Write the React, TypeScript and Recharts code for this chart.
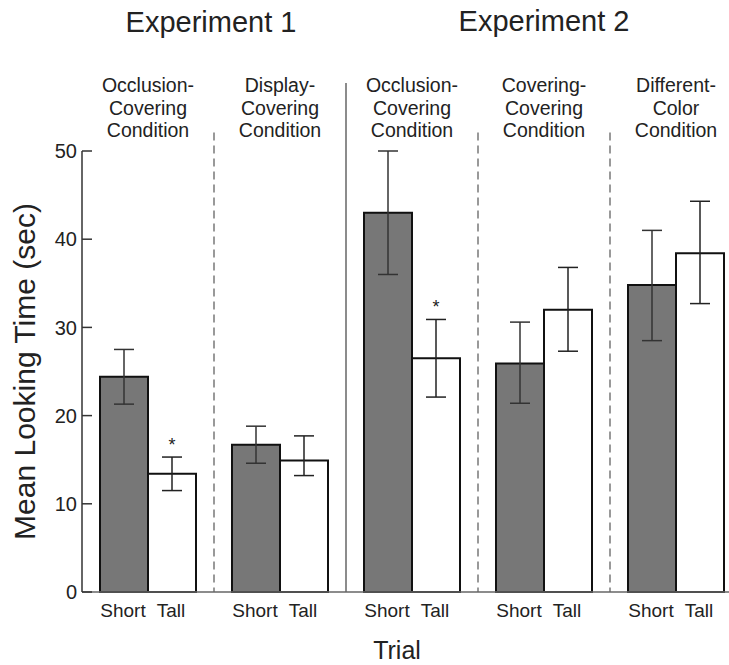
import React from 'react';
import { BarChart, Bar, XAxis, YAxis, ErrorBar, ReferenceLine, LabelList } from 'recharts';

const FONT = '"Liberation Sans", Arial, Helvetica, sans-serif';

// categories (one per condition) and their header lines
const conditions = ['occ1', 'disp1', 'occ2', 'cov2', 'diff2'];
const conditionLines = [
  ['Occlusion-', 'Covering', 'Condition'],
  ['Display-', 'Covering', 'Condition'],
  ['Occlusion-', 'Covering', 'Condition'],
  ['Covering-', 'Covering', 'Condition'],
  ['Different-', 'Color', 'Condition'],
];
const experiments = ['Experiment 1', 'Experiment 2'];

// mean looking time (sec)
const shortMeans = [24.4, 16.7, 43.0, 25.9, 34.8];
const tallMeans = [13.4, 14.9, 26.5, 32.0, 38.4];
// error bars as [below, above]
const shortErr = [[3.1, 3.1], [2.1, 2.1], [7.0, 7.0], [4.5, 4.7], [6.3, 6.2]];
const tallErr = [[1.9, 1.9], [1.7, 2.8], [4.4, 4.4], [4.7, 4.8], [5.7, 5.9]];
const tallMarks = ['*', '', '*', '', ''];

const yTicks = [0, 10, 20, 30, 40, 50];

const data = conditions.map((cond, i) => ({
  cond,
  short: shortMeans[i],
  tall: tallMeans[i],
  shortErr: shortErr[i],
  tallErr: tallErr[i],
}));

// divider tops, in data units (they reach above the plot)
const DASH_TOP = 52.1;
const SOLID_TOP = 57.7;

const ConditionTick = (props: any) => {
  const { x, y, payload } = props;
  const i = conditions.indexOf(payload.value);
  const lines = conditionLines[i] || [];
  return (
    <text x={x} y={y} textAnchor="middle" fontSize={19.5} fill="#222" fontFamily={FONT}>
      {lines.map((l, k) => (
        <tspan key={k} x={x} y={y - 59 + k * 22.5}>{l}</tspan>
      ))}
    </text>
  );
};

const trialLabel = (text: string) => (p: any) => {
  const vb = p.viewBox || p;
  const cx = vb.x + vb.width / 2;
  return (
    <text x={cx - 1} y={vb.y + vb.height + 25} textAnchor="middle" fontSize={19} fill="#222" fontFamily={FONT}>
      {text}
    </text>
  );
};

const renderMark = (p: any) => {
  const i = p.index;
  const mark = tallMarks[i];
  if (!mark) return null;
  const vb = p.viewBox || p;
  const pxPerUnit = vb.height / tallMeans[i];
  const errTop = vb.y - tallErr[i][1] * pxPerUnit;
  return (
    <text x={vb.x + vb.width / 2} y={errTop - 6} textAnchor="middle" fontSize={18} fill="#222" fontFamily={FONT}>
      {mark}
    </text>
  );
};

export default function App() {
  return (
    <div
      style={{
        position: 'absolute', left: 0, top: 0, width: 729, height: 665,
        overflow: 'hidden', background: '#fff', fontFamily: FONT,
      }}
    >
      <div style={{ position: 'absolute', left: 61, top: 8, width: 300, textAlign: 'center', fontSize: 29, lineHeight: '29px', color: '#222' }}>
        {experiments[0]}
      </div>
      <div style={{ position: 'absolute', left: 394, top: 7, width: 300, textAlign: 'center', fontSize: 29, lineHeight: '29px', color: '#222' }}>
        {experiments[1]}
      </div>
      <BarChart
        width={750}
        height={665}
        data={data}
        margin={{ top: 51, right: 8, bottom: 0, left: 0 }}
        barSize={48}
        barGap={0}
      >
        <XAxis
          xAxisId="top"
          orientation="top"
          dataKey="cond"
          height={100}
          axisLine={false}
          tickLine={false}
          tickSize={0}
          tickMargin={0}
          tick={<ConditionTick />}
          interval={0}
        />
        <XAxis
          dataKey="cond"
          height={73}
          axisLine={{ stroke: '#666', strokeWidth: 1.5 }}
          tickLine={false}
          tick={false}
          label={{ value: 'Trial', position: 'insideBottom', offset: 6, dx: -15, fontSize: 25, fill: '#222' }}
        />
        <YAxis
          domain={[0, 50]}
          ticks={yTicks}
          width={82}
          axisLine={{ stroke: '#333', strokeWidth: 1.5 }}
          tickLine={{ stroke: '#333', strokeWidth: 1.5 }}
          tickSize={-10}
          tickMargin={15}
          tick={{ fontSize: 20, fill: '#222', fontFamily: FONT }}
          label={{
            value: 'Mean Looking Time (sec)', angle: -90, position: 'insideLeft', offset: 24,
            style: { textAnchor: 'middle' }, fontSize: 30, fill: '#222',
          }}
        />
        {conditions.slice(0, -1).map((c, i) => (
          <ReferenceLine
            key={c}
            segment={[{ x: c, y: i === 1 ? SOLID_TOP : DASH_TOP }, { x: c, y: 0 }]}
            position="end"
            ifOverflow="visible"
            stroke={i === 1 ? '#666' : '#999'}
            strokeWidth={i === 1 ? 1.5 : 2}
            strokeDasharray={i === 1 ? undefined : '8 5'}
          />
        ))}
        <Bar dataKey="short" fill="#777777" stroke="#111" strokeWidth={2} isAnimationActive={false}>
          <ErrorBar dataKey="shortErr" width={10} stroke="#333" strokeWidth={1.5} />
          <LabelList dataKey="short" content={trialLabel('Short')} />
        </Bar>
        <Bar dataKey="tall" fill="#ffffff" stroke="#111" strokeWidth={2} isAnimationActive={false}>
          <ErrorBar dataKey="tallErr" width={10} stroke="#222" strokeWidth={1.5} />
          <LabelList dataKey="tall" content={trialLabel('Tall')} />
          <LabelList dataKey="tall" content={renderMark} />
        </Bar>
      </BarChart>
    </div>
  );
}
